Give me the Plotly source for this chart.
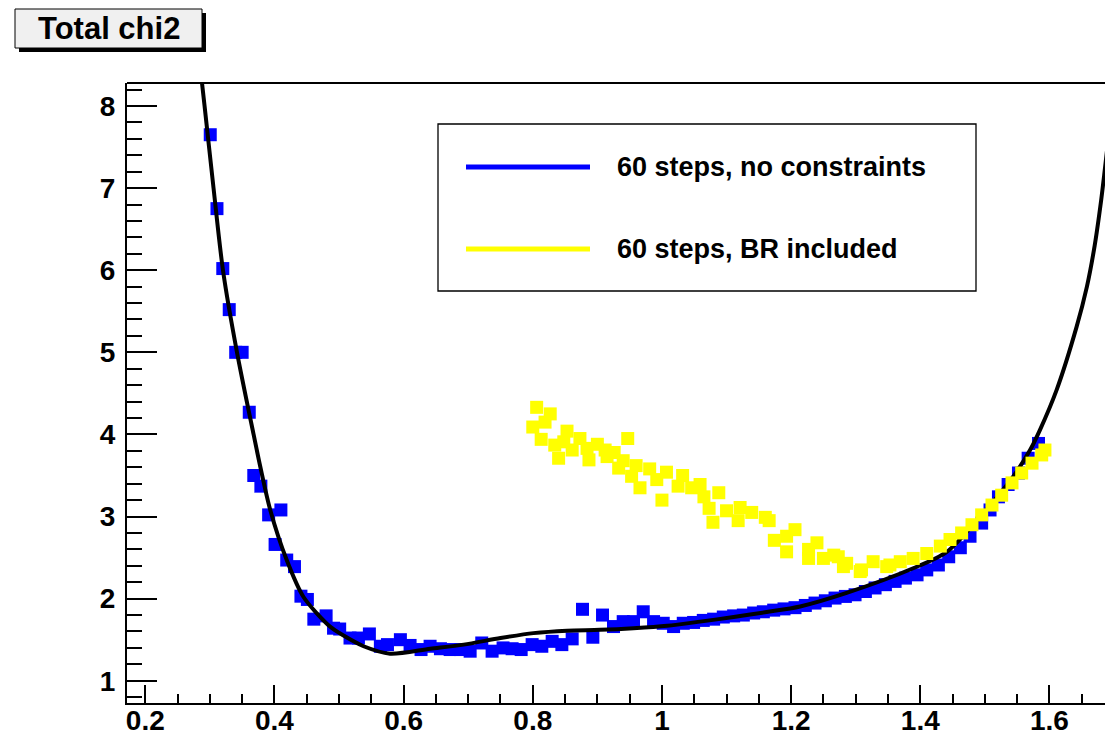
import plotly.graph_objects as go

# --- data -------------------------------------------------------------
# scan with 60 steps and no constraints
blue_x = [0.3006, 0.311, 0.320, 0.330, 0.340, 0.350, 0.361, 0.368, 0.379, 0.391,
          0.401, 0.410, 0.419, 0.431, 0.441, 0.451, 0.461, 0.480, 0.4915, 0.501,
          0.517, 0.530, 0.547, 0.564, 0.575, 0.595, 0.610, 0.627, 0.641, 0.657,
          0.672, 0.688, 0.703, 0.721, 0.737, 0.754, 0.768, 0.782, 0.799, 0.814,
          0.830, 0.845, 0.861, 0.877, 0.893, 0.908, 0.925, 0.940, 0.956, 0.971,
          0.987, 1.002, 1.018, 1.033, 1.049, 1.064, 1.080, 1.095, 1.111, 1.126,
          1.142, 1.157, 1.173, 1.189, 1.206, 1.222, 1.237, 1.253, 1.268, 1.284,
          1.299, 1.315, 1.330, 1.346, 1.361, 1.377, 1.395, 1.410, 1.428, 1.444,
          1.462, 1.477, 1.495, 1.508, 1.521, 1.536, 1.552, 1.567, 1.583]
blue_y = [7.65, 6.75, 6.02, 5.52, 5.00, 5.00, 4.27, 3.50, 3.37, 3.02,
          2.66, 3.08, 2.47, 2.39, 2.03, 1.99, 1.75, 1.79, 1.64, 1.63,
          1.52, 1.52, 1.57, 1.42, 1.44, 1.50, 1.43, 1.38, 1.42, 1.39,
          1.38, 1.38, 1.36, 1.46, 1.36, 1.40, 1.39, 1.38, 1.44, 1.42,
          1.48, 1.44, 1.51, 1.87, 1.53, 1.80, 1.66, 1.72, 1.72, 1.84,
          1.72, 1.70, 1.66, 1.70, 1.71, 1.735, 1.75, 1.776, 1.79, 1.80,
          1.825, 1.84, 1.86, 1.875, 1.89, 1.917, 1.946, 1.974, 2.007, 2.027,
          2.047, 2.087, 2.13, 2.17, 2.21, 2.25, 2.29, 2.35, 2.41, 2.51,
          2.62, 2.76, 2.92, 3.08, 3.24, 3.39, 3.53, 3.71, 3.89]

# scan with 60 steps, branching ratios included
yellow_x = [0.800, 0.806, 0.813, 0.819, 0.827, 0.834, 0.840, 0.848, 0.853, 0.861,
            0.873, 0.884, 0.887, 0.900, 0.912, 0.915, 0.926, 0.933, 0.940, 0.947,
            0.953, 0.960, 0.966, 0.981, 0.992, 1.000, 1.007, 1.025, 1.032, 1.046,
            1.059, 1.065, 1.073, 1.079, 1.088, 1.100, 1.121, 1.118, 1.139, 1.160,
            1.166, 1.174, 1.193, 1.193, 1.206, 1.227, 1.227, 1.240, 1.250, 1.266,
            1.273, 1.281, 1.286, 1.307, 1.309, 1.327, 1.348, 1.353, 1.369, 1.389,
            1.410, 1.431, 1.446, 1.464, 1.480, 1.495, 1.511, 1.526, 1.542, 1.557,
            1.573, 1.588, 1.593]
yellow_y = [4.09, 4.33, 3.94, 4.15, 4.25, 3.87, 3.71, 3.91, 4.04, 3.81,
            3.95, 3.83, 3.69, 3.88, 3.81, 3.73, 3.78, 3.59, 3.68, 3.95,
            3.49, 3.62, 3.35, 3.58, 3.45, 3.20, 3.54, 3.37, 3.50, 3.35,
            3.39, 3.24, 3.10, 2.93, 3.29, 3.07, 3.11, 2.95, 3.05, 2.99,
            2.95, 2.71, 2.76, 2.57, 2.84, 2.60, 2.49, 2.68, 2.49, 2.53,
            2.51, 2.39, 2.43, 2.33, 2.35, 2.45, 2.39, 2.41, 2.45, 2.49,
            2.55, 2.64, 2.72, 2.80, 2.90, 3.02, 3.14, 3.26, 3.41, 3.53,
            3.65, 3.75, 3.81]

# fitted curve through the unconstrained scan
fit_x = [0.284, 0.2918, 0.3057, 0.3203, 0.342, 0.3677, 0.378, 0.3935, 0.419, 0.445,
         0.486, 0.507, 0.538, 0.579, 0.641, 0.693, 0.750, 0.801, 0.853, 0.904,
         0.956, 1.008, 1.059, 1.111, 1.162, 1.214, 1.286, 1.389, 1.441, 1.493,
         1.544, 1.570, 1.585, 1.611, 1.642, 1.658, 1.670, 1.680, 1.6861, 1.700]
fit_y = [8.55, 8.0, 7.0, 6.0, 5.0, 4.0, 3.61, 3.08, 2.47, 2.02,
         1.66, 1.55, 1.42, 1.33, 1.39, 1.44, 1.52, 1.58, 1.61, 1.62,
         1.64, 1.67, 1.72, 1.776, 1.837, 1.905, 2.07, 2.37, 2.57, 3.0,
         3.49, 3.81, 4.05, 4.54, 5.31, 5.80, 6.30, 6.85, 7.25, 8.2]

legend_labels = ["60 steps, no constraints", "60 steps, BR included"]
title_text = "Total chi2"

# --- layout geometry (pixels) ----------------------------------------
W, H = 1105, 736
L, R, T, B = 127, 1105, 83, 703
FONT = "Liberation Sans, Arial, Helvetica, sans-serif"


def px(xp):
    return (xp - L) / (R - L)


def py(yp):
    return (B - yp) / (B - T)


fig = go.Figure()

fig.add_trace(go.Scatter(
    x=blue_x, y=blue_y, mode="markers",
    marker=dict(symbol="square", size=13, color="#0000ff", line=dict(width=0)),
    showlegend=False, cliponaxis=True))

fig.add_trace(go.Scatter(
    x=fit_x, y=fit_y, mode="lines",
    line=dict(color="black", width=4, shape="spline", smoothing=0.8),
    showlegend=False, cliponaxis=True))

fig.add_trace(go.Scatter(
    x=yellow_x, y=yellow_y, mode="markers",
    marker=dict(symbol="square", size=13, color="#ffff00", line=dict(width=0)),
    showlegend=False, cliponaxis=True))

shapes = []
# top frame line (right edge of the frame lies outside the canvas)
shapes.append(dict(type="line", xref="paper", yref="paper", x0=0, x1=1, y0=1, y1=1,
                   line=dict(color="black", width=2)))
# title box with drop shadow
shapes.append(dict(type="rect", xref="paper", yref="paper",
                   x0=px(19), x1=px(206), y0=py(52), y1=py(13),
                   fillcolor="black", line=dict(width=0), layer="above"))
shapes.append(dict(type="rect", xref="paper", yref="paper",
                   x0=px(15), x1=px(202), y0=py(48), y1=py(9),
                   fillcolor="#f0f0f0", line=dict(color="black", width=1), layer="above"))
# legend box
shapes.append(dict(type="rect", xref="paper", yref="paper",
                   x0=px(438), x1=px(976), y0=py(291), y1=py(124),
                   fillcolor="white", line=dict(color="black", width=1.3), layer="above"))
legend_colors = ["#0000ff", "#ffff00"]
legend_rows = [167, 249]
for c, yrow in zip(legend_colors, legend_rows):
    shapes.append(dict(type="line", xref="paper", yref="paper",
                       x0=px(466), x1=px(590), y0=py(yrow), y1=py(yrow),
                       line=dict(color=c, width=5), layer="above"))

annotations = [dict(
    text=title_text, xref="paper", yref="paper", x=px(109), y=py(29),
    xanchor="center", yanchor="middle", showarrow=False,
    font=dict(family=FONT, size=31, color="black", weight="bold"))]
for lab, yrow in zip(legend_labels, legend_rows):
    annotations.append(dict(
        text=lab, xref="paper", yref="paper", x=px(615), y=py(yrow),
        xanchor="left", yanchor="middle", showarrow=False,
        font=dict(family=FONT, size=27, color="black", weight="bold")))

tickfont = dict(family=FONT, size=28, color="black", weight="bold")

fig.update_layout(
    width=W, height=H,
    margin=dict(l=L, r=W - R, t=T, b=H - B, pad=0, autoexpand=False),
    paper_bgcolor="white", plot_bgcolor="white",
    shapes=shapes, annotations=annotations,
    xaxis=dict(range=[0.1717, 1.686], showgrid=False, zeroline=False,
               automargin=False,
               showline=True, linecolor="black", linewidth=2, mirror=False,
               ticks="inside", ticklen=18, tickwidth=2, tickcolor="black",
               tick0=0, dtick=0.2, tickfont=tickfont, ticklabelstandoff=-9,
               minor=dict(ticks="inside", dtick=0.05, tick0=0, ticklen=9,
                          tickwidth=2, tickcolor="black", showgrid=False)),
    yaxis=dict(range=[0.729, 8.28], showgrid=False, zeroline=False,
               automargin=False,
               showline=True, linecolor="black", linewidth=2, mirror=False,
               ticks="inside", ticklen=30, tickwidth=2, tickcolor="black",
               tick0=0, dtick=1, tickfont=tickfont, ticklabelstandoff=4,
               minor=dict(ticks="inside", dtick=0.2, tick0=0, ticklen=15,
                          tickwidth=2, tickcolor="black", showgrid=False)),
)

fig.write_html("out.html")
